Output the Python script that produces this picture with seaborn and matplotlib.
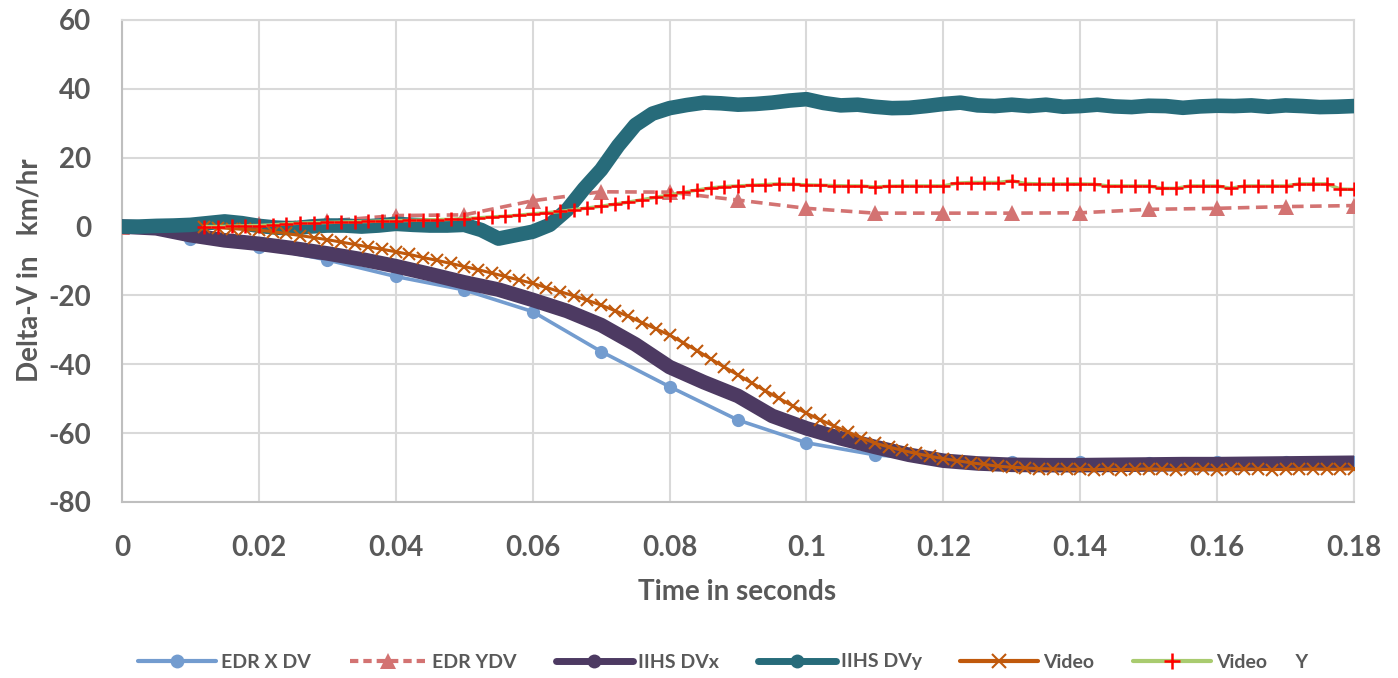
import numpy as np
import pandas as pd
import matplotlib
matplotlib.use("Agg")
import matplotlib.pyplot as plt
from matplotlib.lines import Line2D
import seaborn as sns

# ---------------- data ----------------
edr_time = np.round(np.arange(0, 0.1801, 0.01), 3)
edr_x_dv = [0.0, -3.7, -5.8, -9.7, -14.5, -18.4, -24.7, -36.3, -46.5, -56.2,
            -62.8, -66.3, -67.8, -68.5, -68.4, -68.6, -68.4, -68.4, -68.5]
edr_y_dv = [0.0, 0.2, 0.8, 1.6, 3.2, 3.4, 7.5, 10.1, 10.0, 7.7,
            5.3, 3.9, 3.9, 3.9, 4.0, 5.0, 5.3, 5.8, 6.1]

iihs_x_time = np.round(np.arange(0, 0.1801, 0.005), 4)
iihs_dvx = [0.0, -0.5, -2.5, -4.0, -5.0, -6.3, -7.8, -9.5, -11.5, -13.8,
            -16.2, -18.3, -21.3, -24.5, -28.6, -34.2, -40.8, -45.2, -49.2, -55.0,
            -58.6, -61.5, -64.0, -66.3, -68.0, -68.8, -69.2, -69.3, -69.3, -69.2,
            -69.1, -69.0, -69.0, -68.9, -68.8, -68.7, -68.6]

iihs_y_time = np.round(np.arange(0, 0.18001, 0.0025), 4)
iihs_dvy = [0.0, 0.0, 0.2, 0.3, 0.5, 1.0, 1.5, 1.0, 0.2, -0.3,
            -0.5, 0.0, 0.3, 0.3, 0.0, 0.3, 0.8, 0.5, 0.3, 0.3,
            0.5, -1.0, -3.5, -2.5, -1.5, 0.5, 4.8, 11.0, 16.5, 23.5,
            29.5, 32.8, 34.4, 35.3, 36.0, 35.8, 35.4, 35.6, 36.0, 36.6,
            37.0, 35.9, 35.2, 35.4, 34.8, 34.4, 34.5, 35.0, 35.6, 36.0,
            35.2, 35.0, 35.4, 35.0, 35.4, 34.8, 35.0, 35.4, 34.9, 34.7,
            35.1, 35.0, 34.5, 34.9, 35.1, 35.0, 35.2, 34.8, 35.2, 35.0,
            34.7, 34.8, 35.0]

video_time = np.round(np.arange(0.012, 0.18001, 0.002), 3)
video_x = [0.0, -0.3, -0.6, -0.8, -1.0, -1.5, -2.0, -2.6, -3.2, -3.8,
           -4.5, -5.2, -5.9, -6.6, -7.3, -8.1, -9.0, -9.8, -10.7, -11.6,
           -12.5, -13.5, -14.5, -15.5, -16.5, -17.7, -18.9, -20.1, -21.4, -22.8,
           -24.4, -26.1, -27.9, -29.7, -31.5, -33.7, -36.0, -38.4, -40.8, -43.1,
           -45.4, -47.7, -49.9, -52.1, -54.2, -56.1, -57.9, -59.6, -61.3, -62.9,
           -64.0, -65.0, -65.9, -66.7, -67.4, -68.0, -68.6, -69.1, -69.6, -69.9,
           -70.1, -70.3, -70.4, -70.5, -70.5, -70.6, -70.5, -70.6, -70.5, -70.4,
           -70.5, -70.6, -70.5, -70.5, -70.6, -70.5, -70.4, -70.5, -70.6, -70.5,
           -70.5, -70.4, -70.5, -70.5, -70.4]
video_y = [0.0, 0.0, 0.1, 0.2, 0.3, 0.5, 0.8, 1.0, 1.1, 1.2,
           1.3, 1.4, 1.5, 1.6, 1.7, 1.8, 1.9, 2.0, 2.1, 2.3,
           2.5, 2.8, 3.0, 3.3, 3.7, 4.0, 4.4, 4.9, 5.4, 5.9,
           6.5, 7.1, 7.8, 8.5, 9.2, 9.9, 10.6, 11.2, 11.6, 11.8,
           12.0, 12.2, 12.4, 12.3, 12.1, 12.0, 11.9, 11.8, 11.8, 11.5,
           11.7, 11.8, 11.8, 11.8, 11.8, 12.6, 12.8, 12.8, 12.8, 13.3,
           12.5, 12.4, 12.4, 12.4, 12.4, 12.3, 11.8, 11.8, 11.8, 11.8,
           11.1, 11.1, 11.8, 11.8, 11.8, 11.1, 11.8, 11.8, 11.8, 11.8,
           12.4, 12.4, 12.4, 10.9, 10.8]

x_ticks = [0, 0.02, 0.04, 0.06, 0.08, 0.1, 0.12, 0.14, 0.16, 0.18]
x_tick_labels = ["0", "0.02", "0.04", "0.06", "0.08", "0.1", "0.12", "0.14", "0.16", "0.18"]
y_ticks = [60, 40, 20, 0, -20, -40, -60, -80]

labels = ["EDR X DV", "EDR YDV", "IIHS DVx", "IIHS DVy", "Video", "Video      Y"]
colors = {"edrx": "#739CCF", "edry": "#D37372", "iihsx": "#4D3A62",
          "iihsy": "#276B7A", "video": "#C0590C", "videoy_line": "#A9CB6F",
          "videoy_mk": "#FF0000"}

# ---------------- style ----------------
sns.set_theme(style="white")
plt.rcParams["font.family"] = ["Lato", "DejaVu Sans"]
plt.rcParams["font.weight"] = "bold"
plt.rcParams["axes.unicode_minus"] = False
text_color = "#595959"

fig = plt.figure(figsize=(13.98, 6.78), dpi=100)
ax = fig.add_axes([122 / 1398, 1 - 502 / 678, (1354 - 122) / 1398, (502 - 20) / 678])

# ---------------- series ----------------
sns.lineplot(x=edr_time, y=edr_x_dv, ax=ax, color=colors["edrx"], lw=2.6,
             marker="o", markersize=9.5, markeredgewidth=0, sort=False, zorder=3)
sns.lineplot(x=edr_time, y=edr_y_dv, ax=ax, color=colors["edry"], lw=2.6,
             linestyle=(0, (3.2, 1.8)), marker="^", markersize=11, markeredgewidth=0,
             sort=False, zorder=4)
sns.lineplot(x=iihs_x_time, y=iihs_dvx, ax=ax, color=colors["iihsx"], lw=10.5,
             solid_capstyle="round", solid_joinstyle="round", sort=False, zorder=5)
sns.lineplot(x=iihs_y_time, y=iihs_dvy, ax=ax, color=colors["iihsy"], lw=10.5,
             solid_capstyle="round", solid_joinstyle="round", sort=False, zorder=6)
sns.lineplot(x=video_time, y=video_x, ax=ax, color=colors["video"], lw=2.2,
             marker="x", markersize=9, markeredgewidth=1.5,
             markeredgecolor=colors["video"], sort=False, zorder=7)
sns.lineplot(x=video_time, y=video_y, ax=ax, color=colors["videoy_line"], lw=2.5,
             marker="+", markersize=10, markeredgewidth=1.8,
             markeredgecolor=colors["videoy_mk"], sort=False, zorder=8)

# ---------------- axes ----------------
ax.set_xlim(0, 0.18)
ax.set_ylim(-80, 60)
ax.set_xticks(x_ticks)
ax.set_xticklabels(x_tick_labels)
ax.set_yticks(y_ticks)
ax.grid(True, color="#D9D9D9", lw=1.5)
ax.set_axisbelow(True)
for side in ["top", "right"]:
    ax.spines[side].set_color("#D9D9D9")
    ax.spines[side].set_linewidth(1.5)
for side in ["left", "bottom"]:
    ax.spines[side].set_color("#BFBFBF")
    ax.spines[side].set_linewidth(1.5)
ax.tick_params(axis="both", length=0, labelsize=20, labelcolor=text_color)
ax.tick_params(axis="y", pad=22)
ax.tick_params(axis="x", pad=24)
for lab in ax.get_xticklabels() + ax.get_yticklabels():
    lab.set_fontweight("bold")

ax.set_xlabel("Time in seconds", fontsize=20, fontweight="bold", color=text_color)
ax.set_ylabel("Delta-V in   km/hr", fontsize=20, fontweight="bold", color=text_color)
ax.xaxis.set_label_coords((737 - 122) / (1354 - 122), -(579 - 502) / (502 - 20))
ax.yaxis.set_label_coords(-(122 - 42) / (1354 - 122), (502 - 270) / (502 - 20))

# ---------------- legend ----------------
handles = [
    Line2D([], [], color=colors["edrx"], lw=3, marker="o", markersize=10, markeredgewidth=0),
    Line2D([], [], color=colors["edry"], lw=3, linestyle=(0, (2, 1.2)), marker="^",
           markersize=11, markeredgewidth=0),
    Line2D([], [], color=colors["iihsx"], lw=5, marker="o", markersize=10, markeredgewidth=0),
    Line2D([], [], color=colors["iihsy"], lw=5, marker="o", markersize=10, markeredgewidth=0),
    Line2D([], [], color=colors["video"], lw=3, marker="x", markersize=10, markeredgewidth=1.5),
    Line2D([], [], color=colors["videoy_line"], lw=3, marker="+", markersize=11,
           markeredgewidth=1.8, markeredgecolor=colors["videoy_mk"]),
]
leg = fig.legend(handles, labels, loc="center", ncol=6, frameon=False,
                 bbox_to_anchor=(723 / 1398, 1 - 662 / 678),
                 prop={"family": ["Lato", "DejaVu Sans"], "weight": "bold", "size": 14},
                 handlelength=4.0, handletextpad=0.25, columnspacing=2.0)
for t in leg.get_texts():
    t.set_color(text_color)

fig.savefig("out.png", dpi=100)
